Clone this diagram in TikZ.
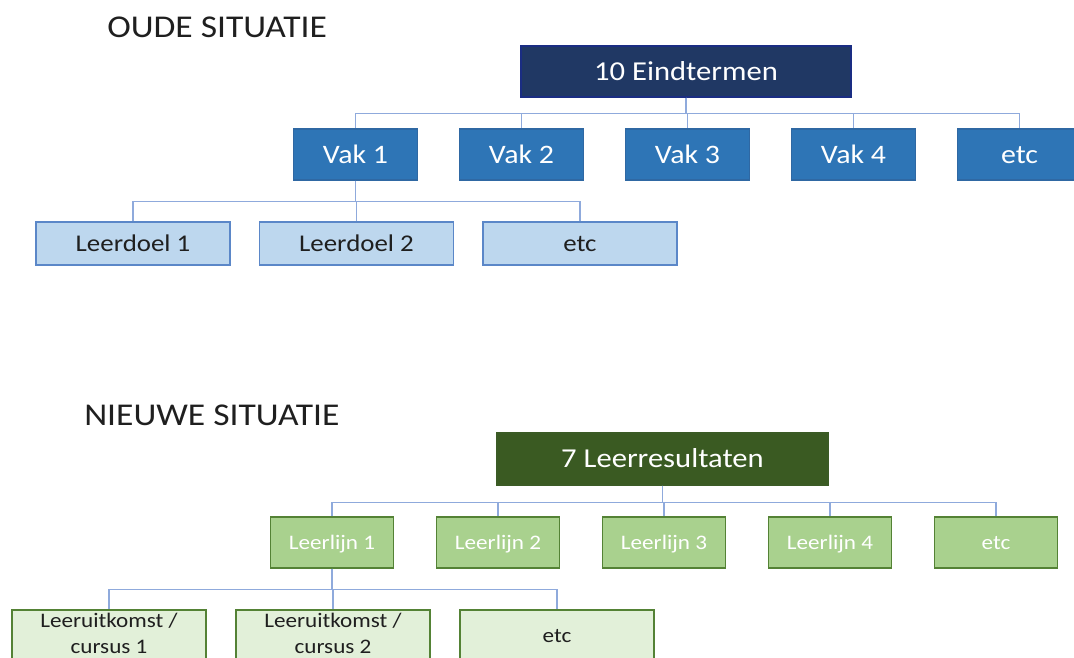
\documentclass[tikz,border=0pt]{standalone}
\usepackage{fontspec}
\setmainfont[FakeStretch=1.12]{Carlito}
\usepackage{tikz}
\usetikzlibrary{positioning}

\definecolor{navy}{HTML}{203864}
\definecolor{vakblue}{HTML}{2E75B6}
\definecolor{vakline}{HTML}{2F68A3}
\definecolor{doelfill}{HTML}{BDD7EE}
\definecolor{doelline}{HTML}{5B87C8}
\definecolor{takblue}{HTML}{8FAADC}
\definecolor{darkgreen}{HTML}{3A5A22}
\definecolor{lijnfill}{HTML}{A9D18E}
\definecolor{greenline}{HTML}{548235}
\definecolor{uitfill}{HTML}{E2F0D9}
\definecolor{tekst}{HTML}{1F1F1F}

\begin{document}
\begin{tikzpicture}[x=0.75pt, y=-0.75pt,
    titel/.style={inner sep=0pt, anchor=base west, text=tekst, font=\fontsize{23.8}{28}\selectfont},
    eindterm/.style={draw=navy!80!blue, fill=navy, line width=0.8pt, text=white, minimum width=247.5pt, minimum height=38.25pt, inner sep=0pt, text height=13.2pt, text depth=0pt, font=\fontsize{20.5}{24}\selectfont},
    vak/.style={draw=vakline, fill=vakblue, line width=0.8pt, text=white, minimum width=93pt, minimum height=38.25pt, inner sep=0pt, text height=12.9pt, text depth=0pt, node distance=124.5pt, font=\fontsize{20}{24}\selectfont},
    doel/.style={draw=doelline, fill=doelfill, line width=0.9pt, text=tekst, minimum width=145.5pt, minimum height=32.25pt, inner sep=0pt, text height=11.6pt, text depth=0pt, node distance=167.6pt, font=\fontsize{18}{22}\selectfont},
    resultaat/.style={draw=greenline!70!black, fill=darkgreen, line width=0.8pt, text=white, minimum width=248.25pt, minimum height=39pt, inner sep=0pt, text height=13.2pt, text depth=0pt, font=\fontsize{20.5}{24}\selectfont},
    lijn/.style={draw=greenline, fill=lijnfill, line width=0.9pt, text=white, minimum width=92.25pt, minimum height=38.25pt, inner sep=0pt, text height=10pt, text depth=0pt, node distance=124.5pt, font=\fontsize{15.5}{18}\selectfont},
    uitkomst/.style={draw=greenline, fill=uitfill, line width=0.9pt, text=tekst, minimum width=145.5pt, minimum height=45pt, inner sep=0pt, align=center, text height=30.2pt, text depth=10.7pt, node distance=168pt, font=\fontsize{15.5}{19.5}\selectfont},
    tak/.style={draw=takblue, line width=1.3pt}]
    \useasboundingbox (0,0) rectangle (1074,657);

    \node[titel] (oud) at (107,37) {OUDE SITUATIE};
    \node[eindterm] (eind) at (686,71.5) {10 Eindtermen};
    \node[vak] (vak1) at (355.5,154.5) {Vak 1};
    \node[vak, right of=vak1] (vak2) {Vak 2};
    \node[vak, right of=vak2] (vak3) {Vak 3};
    \node[vak, right of=vak3] (vak4) {Vak 4};
    \node[vak, right of=vak4] (vak5) {etc};
    \node[doel] (doel1) at (133,243.5) {Leerdoel 1};
    \node[doel, right of=doel1] (doel2) {Leerdoel 2};
    \node[doel, right of=doel2] (doel3) {etc};

    \draw[tak] (eind.south) -- +(0,16) -| (vak1.north);
    \draw[tak] (eind.south) -- +(0,16) -| (vak2.north);
    \draw[tak] (eind.south) -- +(0,16) -| (vak3.north);
    \draw[tak] (eind.south) -- +(0,16) -| (vak4.north);
    \draw[tak] (eind.south) -- +(0,16) -| (vak5.north);
    \draw[tak] (vak1.south) -- +(0,21) -| (doel1.north);
    \draw[tak] (vak1.south) -- +(0,21) -| (doel2.north);
    \draw[tak] (vak1.south) -- +(0,21) -| (doel3.north);

    \node[titel] (nieuw) at (84,425) {NIEUWE SITUATIE};
    \node[resultaat] (res) at (662.5,459) {7 Leerresultaten};
    \node[lijn] (lijn1) at (332,542.5) {Leerlijn 1};
    \node[lijn, right of=lijn1] (lijn2) {Leerlijn 2};
    \node[lijn, right of=lijn2] (lijn3) {Leerlijn 3};
    \node[lijn, right of=lijn3] (lijn4) {Leerlijn 4};
    \node[lijn, right of=lijn4] (lijn5) {etc};
    \node[uitkomst] (uit1) at (109,640) {Leeruitkomst /\\ cursus 1};
    \node[uitkomst, right of=uit1] (uit2) {Leeruitkomst /\\ cursus 2};
    \node[uitkomst, right of=uit2, text height=7pt, text depth=4pt] (uit3) {etc};

    \draw[tak] (res.south) -- +(0,17) -| (lijn1.north);
    \draw[tak] (res.south) -- +(0,17) -| (lijn2.north);
    \draw[tak] (res.south) -- +(0,17) -| (lijn3.north);
    \draw[tak] (res.south) -- +(0,17) -| (lijn4.north);
    \draw[tak] (res.south) -- +(0,17) -| (lijn5.north);
    \draw[tak] (lijn1.south) -- +(0,21) -| (uit1.north);
    \draw[tak] (lijn1.south) -- +(0,21) -| (uit2.north);
    \draw[tak] (lijn1.south) -- +(0,21) -| (uit3.north);
  \end{tikzpicture}
\end{document}
